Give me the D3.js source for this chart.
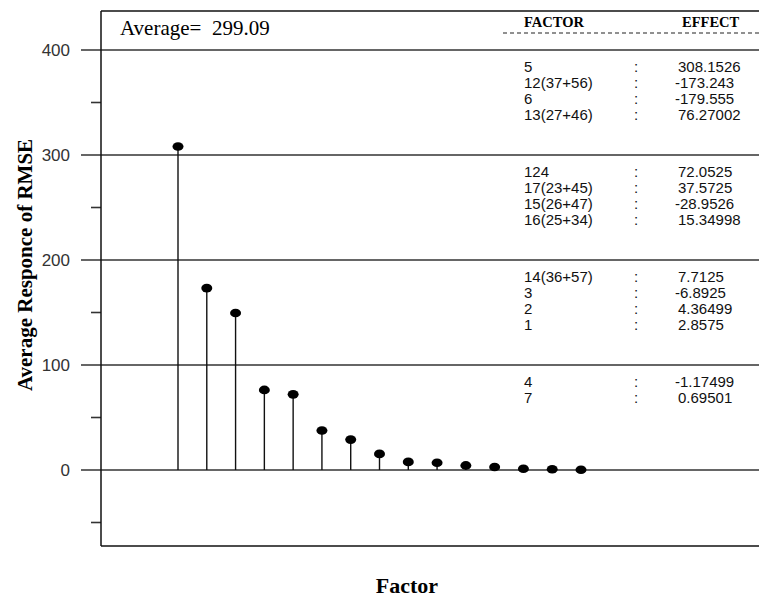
<!DOCTYPE html>
<html>
<head>
<meta charset="utf-8">
<script src="https://cdn.jsdelivr.net/npm/d3@7"></script>
<style>
  html, body { margin: 0; padding: 0; background: #fff; }
  svg { display: block; }
</style>
</head>
<body>
<svg id="chart" width="759" height="599"></svg>
<script>
// Ranked factor responses (absolute effect), one stem per factor
const factorIndex = [1, 2, 3, 4, 5, 6, 7, 8, 9, 10, 11, 12, 13, 14, 15];
const responseValues = [308.15, 173.24, 149.5, 76.27, 72.05, 37.57, 28.95, 15.35, 7.71, 6.89, 4.36, 2.86, 1.17, 0.70, 0.2];

// Axis ticks
const majorTicks = [0, 100, 200, 300, 400];
const minorTicks = [-50, 50, 150, 250, 350];

// Summary table
const averageValue = "299.09";
const tableFactors = ["5", "12(37+56)", "6", "13(27+46)", "124", "17(23+45)", "15(26+47)", "16(25+34)",
                      "14(36+57)", "3", "2", "1", "4", "7"];
const tableEffects = ["308.1526", "-173.243", "-179.555", "76.27002", "72.0525", "37.5725", "-28.9526", "15.34998",
                      "7.7125", "-6.8925", "4.36499", "2.8575", "-1.17499", "0.69501"];

const svg = d3.select("#chart");
const W = 759, H = 599;
const plot = { left: 101, top: 11, bottom: 546, right: W };

const y = d3.scaleLinear().domain([0, 400]).range([470, 50]);
const x = d3.scaleLinear().domain([1, 15]).range([178, 581]);

const serif = "'Liberation Serif', 'Times New Roman', serif";
const sans = "'Liberation Sans', Arial, sans-serif";

// Gridlines with major ticks (extend left of the axis)
svg.append("g").selectAll("line").data(majorTicks).join("line")
  .attr("x1", plot.left - 20).attr("x2", plot.right)
  .attr("y1", d => y(d)).attr("y2", d => y(d))
  .attr("stroke", "#333").attr("stroke-width", 1.6);

// Minor ticks
svg.append("g").selectAll("line").data(minorTicks).join("line")
  .attr("x1", plot.left - 10).attr("x2", plot.left)
  .attr("y1", d => y(d)).attr("y2", d => y(d))
  .attr("stroke", "#333").attr("stroke-width", 1.6);

// Tick labels
svg.append("g").selectAll("text").data(majorTicks).join("text")
  .attr("x", 70).attr("y", d => y(d))
  .attr("text-anchor", "end").attr("dominant-baseline", "central")
  .attr("font-family", sans).attr("font-size", 17).attr("fill", "#333")
  .text(d => d);

// Frame: left axis, top and bottom borders
const frame = svg.append("g").attr("stroke", "#111").attr("stroke-width", 1.5);
frame.append("line").attr("x1", plot.left).attr("x2", plot.left).attr("y1", plot.top).attr("y2", plot.bottom);
frame.append("line").attr("x1", plot.left).attr("x2", plot.right).attr("y1", plot.top).attr("y2", plot.top);
frame.append("line").attr("x1", plot.left).attr("x2", plot.right).attr("y1", plot.bottom).attr("y2", plot.bottom);

// Stems
const pts = factorIndex.map((f, i) => ({ f, v: responseValues[i] }));
svg.append("g").selectAll("line").data(pts).join("line")
  .attr("x1", d => x(d.f)).attr("x2", d => x(d.f))
  .attr("y1", y(0)).attr("y2", d => y(d.v))
  .attr("stroke", "#111").attr("stroke-width", 1.4);

// Stem heads
svg.append("g").selectAll("ellipse").data(pts).join("ellipse")
  .attr("cx", d => x(d.f)).attr("cy", d => y(d.v))
  .attr("rx", 5.5).attr("ry", 4.3).attr("fill", "#000");

// Average annotation
svg.append("text").attr("x", 120).attr("y", 35)
  .attr("font-family", serif).attr("font-size", 21)
  .attr("xml:space", "preserve")
  .text("Average=  " + averageValue);

// Table header
const colFactor = 524, colColon = 634, colEffect = 678;
svg.append("text").attr("x", colFactor).attr("y", 27)
  .attr("font-family", serif).attr("font-size", 14.5).attr("font-weight", "bold")
  .text("FACTOR");
svg.append("text").attr("x", 682).attr("y", 27)
  .attr("font-family", serif).attr("font-size", 14.5).attr("font-weight", "bold")
  .text("EFFECT");
svg.append("line").attr("x1", 503).attr("x2", W).attr("y1", 33).attr("y2", 33)
  .attr("stroke", "#222").attr("stroke-width", 1.2).attr("stroke-dasharray", "4,3");

// Table rows, grouped four per gridline band
const rowY = i => y(400 - 100 * Math.floor(i / 4)) + 16 + 16 * (i % 4);
const rows = svg.append("g").attr("font-family", sans).attr("font-size", 15).attr("fill", "#111");
rows.selectAll("text.f").data(tableFactors).join("text").attr("class", "f")
  .attr("x", colFactor).attr("y", (d, i) => rowY(i)).attr("dominant-baseline", "central")
  .text(d => d);
rows.selectAll("text.c").data(tableFactors).join("text").attr("class", "c")
  .attr("x", colColon).attr("y", (d, i) => rowY(i)).attr("dominant-baseline", "central")
  .text(":");
rows.selectAll("text.e").data(tableEffects).join("text").attr("class", "e")
  .attr("x", d => d.startsWith("-") ? colEffect - 3 : colEffect).attr("y", (d, i) => rowY(i))
  .attr("dominant-baseline", "central")
  .text(d => d);

// Axis titles
svg.append("text")
  .attr("transform", "translate(25,265) rotate(-90)")
  .attr("text-anchor", "middle").attr("dominant-baseline", "central")
  .attr("font-family", serif).attr("font-size", 21).attr("font-weight", "bold")
  .text("Average Responce of RMSE");
svg.append("text").attr("x", 407).attr("y", 593)
  .attr("text-anchor", "middle")
  .attr("font-family", serif).attr("font-size", 22).attr("font-weight", "bold")
  .text("Factor");
</script>
</body>
</html>
